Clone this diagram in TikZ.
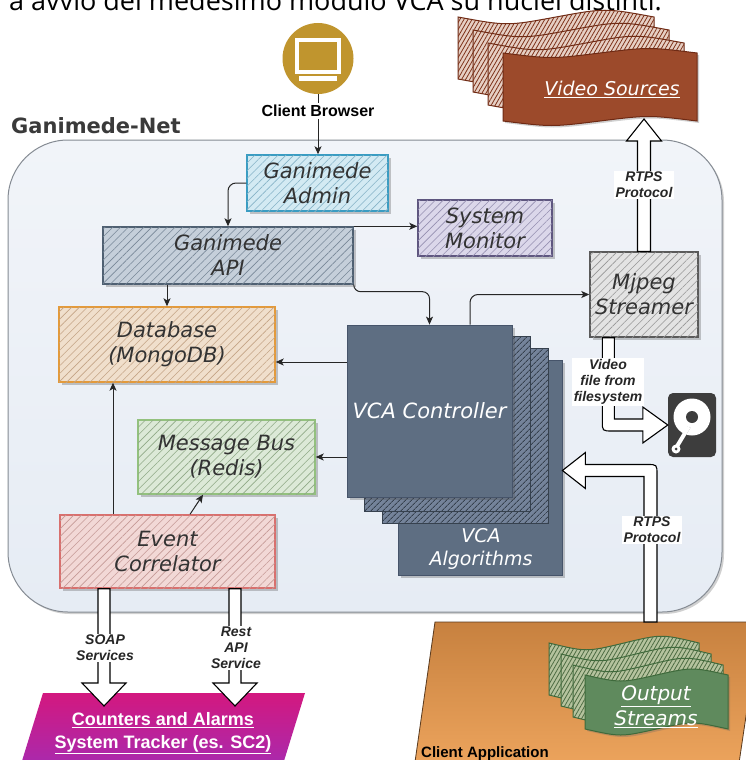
\documentclass[tikz,border=0pt]{standalone}
\usepackage{fontspec}
\setmainfont{DejaVu Sans}[ItalicFont={DejaVu Sans Oblique},BoldFont={DejaVu Sans Bold}]
\newfontfamily\arialfont{Liberation Sans}
\newfontfamily\headfont{Open Sans}
\usetikzlibrary{calc,arrows.meta,patterns.meta,shadows,fadings}

\definecolor{netTop}{HTML}{F1F4F9}
\definecolor{netMid}{HTML}{D0DDEE}
\definecolor{netBot}{HTML}{E6ECF4}
\definecolor{netLine}{HTML}{858B93}
\definecolor{titlegray}{HTML}{3A3A3A}
\definecolor{gold}{HTML}{C0952E}
\definecolor{adminLine}{HTML}{3A9CC2}
\definecolor{adminFill}{HTML}{D3EAF3}
\definecolor{adminHatch}{HTML}{86B3C7}
\definecolor{apiLine}{HTML}{4F6072}
\definecolor{apiFill}{HTML}{C5CFDA}
\definecolor{apiHatch}{HTML}{788898}
\definecolor{monLine}{HTML}{5E567F}
\definecolor{monFill}{HTML}{DBD7EA}
\definecolor{monHatch}{HTML}{958FB0}
\definecolor{mjLine}{HTML}{5A5A5A}
\definecolor{mjFill}{HTML}{E3E3E3}
\definecolor{mjHatch}{HTML}{969696}
\definecolor{dbLine}{HTML}{E39A3B}
\definecolor{dbFill}{HTML}{F0DFCC}
\definecolor{dbHatch}{HTML}{C4A486}
\definecolor{mbLine}{HTML}{93C17E}
\definecolor{mbFill}{HTML}{DCE9D7}
\definecolor{mbHatch}{HTML}{90AA87}
\definecolor{ecLine}{HTML}{D8706E}
\definecolor{ecFill}{HTML}{F2D8D6}
\definecolor{ecHatch}{HTML}{C59A97}
\definecolor{vcaFill}{HTML}{5E6E82}
\definecolor{vcaLine}{HTML}{46546A}
\definecolor{vcaHatch}{HTML}{36414E}
\definecolor{vcaLayer}{HTML}{74839A}
\definecolor{vsFront}{HTML}{9C4A2B}
\definecolor{vsLine}{HTML}{6E2A14}
\definecolor{vsBack}{HTML}{E6CFC4}
\definecolor{vsHatch}{HTML}{7E3219}
\definecolor{osFront}{HTML}{5F8A5D}
\definecolor{osLine}{HTML}{3E6A3B}
\definecolor{osBack}{HTML}{B5C39E}
\definecolor{osHatch}{HTML}{4D6B42}
\definecolor{appTop}{HTML}{C7813F}
\definecolor{appBot}{HTML}{F3AA62}
\definecolor{appLine}{HTML}{5A3A1E}
\definecolor{trkTop}{HTML}{D3187F}
\definecolor{trkBot}{HTML}{9A30BE}
\definecolor{diskGray}{HTML}{3D3D3D}

\tikzset{
  sbox/.style n args={3}{rectangle, draw=#1, fill=#2, line width=1.4pt,
    postaction={pattern={Lines[angle=45,distance=5.5pt,line width=.6pt]}, pattern color=#3},
    drop shadow={shadow xshift=2.5pt, shadow yshift=-2.5pt, opacity=.3, fill=black!70},
    font=\itshape\fontsize{21}{25}\selectfont, text=black!80, align=center, inner sep=0pt},
  vcabox/.style={rectangle, draw=vcaLine, fill=vcaFill, line width=.8pt,
    drop shadow={shadow xshift=2.5pt, shadow yshift=-2.5pt, opacity=.3, fill=black!70},
    inner sep=0pt},
  vcalayer/.style={rectangle, draw=vcaHatch, fill=vcaLayer, line width=.8pt,
    postaction={pattern={Lines[angle=45,distance=4pt,line width=.9pt]}, pattern color=vcaHatch},
    inner sep=0pt},
  vcatext/.style={font=\itshape\fontsize{#1}{23}\selectfont, text=white, align=center, inner sep=0pt},
  conn/.style={draw=black!85, line width=1pt, -{Stealth[length=8pt,width=7pt,inset=2pt]}},
  plainline/.style={draw=black!85, line width=1pt},
  blockarrow/.style={draw=black, fill=white, line width=1.1pt, line join=miter},
  lbl/.style={fill=white, inner sep=1.5pt, align=center, text=black!85,
    font=\arialfont\bfseries\itshape\fontsize{14}{16}\selectfont},
  tapeat/.style n args={5}{insert path={(#1,#2+#5) .. controls (#1+#3/4,#2+2*#5) .. (#1+#3/2,#2+#5)
    .. controls (#1+3*#3/4,#2) .. (#1+#3,#2+#5) -- (#1+#3,#2+#4-#5)
    .. controls (#1+3*#3/4,#2+#4-2*#5) .. (#1+#3/2,#2+#4-#5)
    .. controls (#1+#3/4,#2+#4) .. (#1,#2+#4-#5) -- cycle}},
  vsback/.style={draw=vsLine, fill=vsBack, line width=1pt,
    postaction={pattern={Lines[angle=60,distance=3.5pt,line width=.8pt]}, pattern color=vsHatch}},
  osback/.style={draw=osLine, fill=osBack, line width=1pt,
    postaction={pattern={Lines[angle=60,distance=3.5pt,line width=.8pt]}, pattern color=osHatch}},
}

\begin{document}
\begin{tikzpicture}[x=1pt,y=-1pt]
\useasboundingbox (0,0) rectangle (745,760);
\fill[white] (0,0) rectangle (745,760);

% running text line above the figure
\node[anchor=base west, inner sep=0pt, font=\headfont\fontsize{27}{30}\selectfont] (lead) at (9,11)
  {a avvio del medesimo modulo VCA su nuclei distinti.};

% Ganimede-Net container
\draw[draw=netLine, line width=1pt, rounded corners=60pt,
      drop shadow={shadow xshift=2pt, shadow yshift=-2pt, opacity=.3, fill=black!60},
      top color=netTop, middle color=netMid, bottom color=netBot]
  (8,140) rectangle (722,612);
\node[anchor=base west, inner sep=0pt, font=\bfseries\fontsize{21}{25}\selectfont, text=titlegray]
  (nettitle) at (11,133) {Ganimede-Net};

% client application
\shade[top color=appTop, bottom color=appBot, draw=appLine, line width=.8pt]
  (435,622) -- (760,622) -- (735,790) -- (411,790) -- cycle;
\node[anchor=base west, inner sep=0pt, font=\arialfont\bfseries\fontsize{15}{18}\selectfont]
  (applabel) at (421,757) {Client Application};

% output streams stack
\draw[osback, tapeat={549}{634}{150}{70}{9}];
\draw[osback, tapeat={561}{645}{150}{70}{9}];
\draw[osback, tapeat={573}{656}{150}{70}{9}];
\draw[draw=osLine, fill=osFront, line width=1pt,
      drop shadow={shadow xshift=2pt, shadow yshift=-2pt, opacity=.3, fill=black!60},
      tapeat={585}{667}{143}{70}{8}];
\node[font=\itshape\fontsize{20}{25}\selectfont, text=white, align=center, inner sep=0pt]
  (streams) at (656,707) {\underline{Output}\\\underline{Streams}};

% counters and alarms tracker
\shade[top color=trkTop, bottom color=trkBot] (43,693) -- (305,693) -- (275,790) -- (13,790) -- cycle;
\node[font=\arialfont\bfseries\fontsize{18}{23}\selectfont, text=white, align=center, inner sep=0pt]
  (tracker) at (163,733) {\underline{Counters and Alarms}\\\underline{System Tracker (es. SC2)}};

% video sources stack
\draw[vsback, tapeat={458}{8}{196}{80}{9}];
\draw[vsback, tapeat={473}{21}{196}{80}{9}];
\draw[vsback, tapeat={488}{34}{196}{80}{9}];
\draw[draw=vsLine, fill=vsFront, line width=1pt,
      drop shadow={shadow xshift=2pt, shadow yshift=-2pt, opacity=.3, fill=black!60},
      tapeat={503}{47}{194}{80}{6}];
\node[font=\itshape\fontsize{19}{24}\selectfont, text=white, inner sep=0pt]
  (sources) at (612,89) {\underline{Video Sources}};
\coordinate (vsIn) at (644,119);

% client browser icon
\node[circle, fill=gold, minimum size=71pt, inner sep=0pt] (browser) at (318,58.5) {};
\begin{scope}[shift={(browser.center)}]
  \draw[white, line width=4pt] (-21,-18.5) rectangle (21,13.5);
  \fill[white] (-19,17.5) rectangle (19,22.5);
\end{scope}
\node[font=\arialfont\bfseries\fontsize{16}{18}\selectfont, inner sep=2pt] (cbtext) at (318,111) {Client Browser};

% components
\node[sbox={adminLine}{adminFill}{adminHatch}, minimum width=141pt, minimum height=56pt]
  (admin) at (317.5,183) {Ganimede\\Admin};
\node[sbox={apiLine}{apiFill}{apiHatch}, minimum width=250pt, minimum height=57pt]
  (api) at (228,255.5) {Ganimede\\API};
\node[sbox={monLine}{monFill}{monHatch}, minimum width=134pt, minimum height=56pt]
  (monitor) at (485,228) {System\\Monitor};
\node[sbox={mjLine}{mjFill}{mjHatch}, minimum width=108pt, minimum height=85pt]
  (mjpeg) at (644,294.5) {Mjpeg\\Streamer};
\node[sbox={dbLine}{dbFill}{dbHatch}, minimum width=216pt, minimum height=75pt]
  (db) at (167,344.5) {Database\\(MongoDB)};
\node[sbox={mbLine}{mbFill}{mbHatch}, minimum width=177pt, minimum height=74pt]
  (bus) at (226.5,457) {Message Bus\\(Redis)};
\node[sbox={ecLine}{ecFill}{ecHatch}, minimum width=215pt, minimum height=73pt]
  (corr) at (167.5,551.5) {Event\\Correlator};

% VCA stack
\node[vcabox, minimum width=164pt, minimum height=215pt] (alg) at (480,467.5) {};
\node[vcatext=19] (algtext) at (481,549) {VCA\\Algorithms};
\node[vcalayer, minimum width=166pt, minimum height=175pt] (layerB) at (465,435.5) {};
\node[vcalayer, minimum width=166pt, minimum height=175pt] (layerA) at (447,423.5) {};
\node[vcabox, minimum width=165pt, minimum height=172pt, vcatext=21] (vca) at (429.5,411) {VCA Controller};

% hard disk
\node[fill=diskGray, rounded corners=5pt, minimum width=48pt, minimum height=64pt, inner sep=0pt]
  (disk) at (692,425) {};
\begin{scope}[shift={(disk.center)}]
  \fill[white] (0,-8) circle (18.5);
  \fill[diskGray] (0,-8) circle (6);
  \draw[diskGray, line width=3pt] (-3,2) -- (-17,25);
  \draw[white, line width=4pt, line cap=round] (-4,3) -- (-16,23);
  \fill[white] (-16,24) circle (4.5);
  \fill[diskGray] (-16,24) circle (1.5);
\end{scope}

% connectors
\draw[plainline] (browser.south) -- (cbtext.north);
\draw[conn] (cbtext.south) -- (cbtext.south |- admin.north);
\draw[conn, rounded corners=8pt] (admin.west) -| (api.north);
\draw[conn] (api.north east) -- (api.north east -| monitor.west);
\draw[conn, rounded corners=7pt] (api.south east) -- ++(0,7) -| (vca.north);
\draw[conn] (db.north |- api.south) -- (db.north);
\draw[conn, rounded corners=8pt] ([xshift=40.5pt]vca.north) |- (mjpeg.west);
\coordinate (dbIn) at (db.east |- 0,362);
\draw[conn] (vca.west |- dbIn) -- (dbIn);
\draw[conn] (vca.west |- bus.east) -- (bus.east);
\coordinate (corrUp) at (corr.north -| 113,0);
\draw[conn] (corrUp) -- (corrUp |- db.south);
\coordinate (corrBus) at (corr.north -| 190,0);
\coordinate (busIn) at (bus.south -| 203,0);
\draw[conn] (corrBus) -- (busIn);

% hollow block arrows
\draw[blockarrow] ($(mjpeg.north)+(-6.5,0)$) -- ($(vsIn)+(-6.5,22)$) -- ($(vsIn)+(-17.5,22)$) -- (vsIn)
  -- ($(vsIn)+(17.5,22)$) -- ($(vsIn)+(6.5,22)$) -- ($(mjpeg.north)+(6.5,0)$) -- cycle;

\coordinate (mdS) at ($(mjpeg.south west)+(19,0)$);
\coordinate (mdB) at (mdS |- disk.west);
\draw[blockarrow] ($(mdS)+(-6,0)$) -- ($(mdB)+(-6,-4)$) .. controls ($(mdB)+(-6,6)$) .. ($(mdB)+(4,6)$)
  -- ($(disk.west)+(-25,6)$) -- ($(disk.west)+(-25,18)$) -- (disk.west) -- ($(disk.west)+(-25,-18)$)
  -- ($(disk.west)+(-25,-6)$) -- ($(mdB)+(6,-6)$) -- ($(mdS)+(6,0)$) -- cycle;

\coordinate (caIn) at (650.5,622);
\coordinate (rtIn) at ($(alg.east)+(0,3)$);
\coordinate (rtB) at (caIn |- rtIn);
\draw[blockarrow] ($(caIn)+(6.5,0)$) -- ($(rtB)+(6.5,4)$) .. controls ($(rtB)+(6.5,-6)$) .. ($(rtB)+(-3.5,-6)$)
  -- ($(rtIn)+(23,-6)$) -- ($(rtIn)+(23,-18)$) -- (rtIn) -- ($(rtIn)+(23,18)$) -- ($(rtIn)+(23,6)$)
  -- ($(rtB)+(-6.5,6)$) -- ($(caIn)+(-6.5,0)$) -- cycle;

\coordinate (soapIn) at (104,706);
\coordinate (soapOut) at (corr.south -| soapIn);
\draw[blockarrow] ($(soapOut)+(-6,0)$) -- ($(soapIn)+(-6,-23)$) -- ($(soapIn)+(-22,-23)$) -- (soapIn)
  -- ($(soapIn)+(22,-23)$) -- ($(soapIn)+(6,-23)$) -- ($(soapOut)+(6,0)$) -- cycle;

\coordinate (restIn) at (235,706);
\coordinate (restOut) at (corr.south -| restIn);
\draw[blockarrow] ($(restOut)+(-6,0)$) -- ($(restIn)+(-6,-23)$) -- ($(restIn)+(-22,-23)$) -- (restIn)
  -- ($(restIn)+(22,-23)$) -- ($(restIn)+(6,-23)$) -- ($(restOut)+(6,0)$) -- cycle;

% arrow labels
\node[lbl] (lblVS) at (644,185) {RTPS\\Protocol};
\node[lbl] (lblDisk) at (608,382) {Video\\file from\\filesystem};
\node[lbl] (lblRT) at (652,530) {RTPS\\Protocol};
\node[lbl] (lblSoap) at (105,648) {SOAP\\Services};
\node[lbl] (lblRest) at (236,648) {Rest\\API\\Service};
\end{tikzpicture}
\end{document}
